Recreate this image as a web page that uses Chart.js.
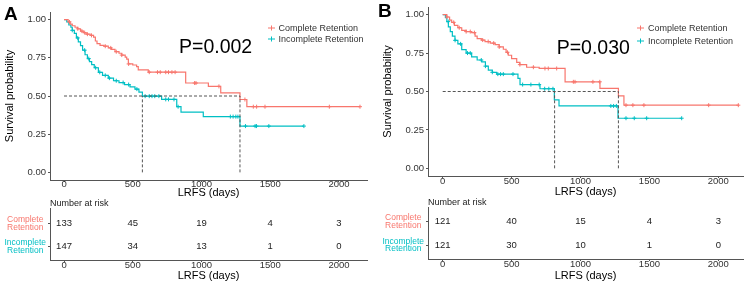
<!DOCTYPE html>
<html>
<head>
<meta charset="utf-8">
<script src="https://cdn.jsdelivr.net/npm/chart.js@4.4.1/dist/chart.umd.min.js"></script>
<style>
  html, body { margin: 0; padding: 0; background: #fff; }
  body { width: 749px; height: 286px; position: relative; overflow: hidden; font-family: "Liberation Sans", Arial, sans-serif; }
  canvas { position: absolute; }
  .txt { position: absolute; line-height: 1; white-space: nowrap; transform: translateY(-50%); }
  .letter { font-weight: bold; font-size: 19px; color: #000; }
  .pval { font-size: 19.5px; color: #000; }
  .legend { font-size: 9px; color: #333; }
  .risk-title { font-size: 9px; color: #222; }
  .mk { position: relative; display: inline-block; width: 7px; height: 1px; margin-right: 4px; vertical-align: middle; }
  .mk::after { content: ''; position: absolute; left: 3px; top: -2px; width: 1px; height: 5px; background: inherit; }
  .red { background: #F8766D; }
  .teal { background: #00BFC4; }
</style>
</head>
<body>

<canvas id="mainA" width="375" height="200" style="left:0;top:0"></canvas>
<canvas id="riskA" width="375" height="91" style="left:0;top:195px"></canvas>
<canvas id="mainB" width="374" height="200" style="left:375px;top:0"></canvas>
<canvas id="riskB" width="374" height="91" style="left:375px;top:195px"></canvas>

<div class="txt letter" style="left:4px;top:12.7px">A</div>
<div class="txt letter" style="left:378px;top:10px">B</div>

<div class="txt pval" style="left:179px;top:46.7px">P=0.002</div>
<div class="txt pval" style="left:556.7px;top:48.3px">P=0.030</div>

<div class="txt legend" style="left:267.5px;top:28.3px"><span class="mk red"></span>Complete Retention</div>
<div class="txt legend" style="left:267.5px;top:39.3px"><span class="mk teal"></span>Incomplete Retention</div>
<div class="txt legend" style="left:637px;top:28.3px"><span class="mk red"></span>Complete Retention</div>
<div class="txt legend" style="left:637px;top:40.7px"><span class="mk teal"></span>Incomplete Retention</div>

<div class="txt risk-title" style="left:50px;top:203.3px">Number at risk</div>
<div class="txt risk-title" style="left:428px;top:201.7px">Number at risk</div>

<script>
// --- 1. DATA ---
const xTicks = [0, 500, 1000, 1500, 2000];
const yTicks = [0, 0.25, 0.5, 0.75, 1];
const riskTimes = [0, 500, 1000, 1500, 2000];

// Panel A: drop times, survival after each drop, censor times
const timesA_complete = [30, 45, 60, 80, 100, 120, 140, 160, 190, 215, 228, 240, 262, 290, 322, 345, 371, 400, 420, 445, 456, 468, 500, 528, 540, 613, 885, 1050, 1140, 1280, 1330];
const survA_complete = [0.985, 0.97, 0.96, 0.95, 0.94, 0.925, 0.915, 0.905, 0.897, 0.886, 0.86, 0.843, 0.832, 0.826, 0.815, 0.805, 0.79, 0.78, 0.768, 0.755, 0.742, 0.71, 0.703, 0.692, 0.671, 0.656, 0.585, 0.563, 0.52, 0.477, 0.43];
const censorA_complete = [40, 100, 130, 150, 170, 200, 300, 340, 380, 420, 470, 620, 680, 700, 740, 760, 785, 808, 950, 960, 1127, 1316, 1377, 1401, 1462, 1930, 2153];

const timesA_incomplete = [20, 35, 50, 60, 75, 90, 104, 120, 135, 153, 170, 185, 201, 220, 250, 280, 322, 360, 400, 440, 480, 516, 545, 570, 710, 820, 851, 1013, 1280];
const survA_incomplete = [0.985, 0.965, 0.95, 0.93, 0.91, 0.88, 0.855, 0.83, 0.8, 0.77, 0.745, 0.725, 0.705, 0.685, 0.655, 0.635, 0.617, 0.6, 0.588, 0.575, 0.56, 0.545, 0.525, 0.499, 0.478, 0.43, 0.395, 0.365, 0.303];
const censorA_incomplete = [60, 100, 150, 180, 230, 260, 300, 330, 380, 430, 470, 530, 590, 620, 640, 660, 690, 740, 760, 800, 830, 1210, 1230, 1250, 1265, 1320, 1390, 1400, 1490, 1745];

const medianA = [570, 1280];
const riskA_complete = [133, 45, 19, 4, 3];
const riskA_incomplete = [147, 34, 13, 1, 0];

// Panel B
const timesB_complete = [30, 50, 65, 85, 110, 138, 170, 210, 235, 250, 280, 307, 345, 380, 410, 440, 460, 476, 500, 537, 560, 609, 700, 888, 1141, 1275, 1315];
const survB_complete = [0.985, 0.965, 0.95, 0.93, 0.915, 0.898, 0.89, 0.883, 0.86, 0.844, 0.835, 0.825, 0.815, 0.805, 0.79, 0.775, 0.755, 0.736, 0.714, 0.69, 0.675, 0.658, 0.65, 0.563, 0.52, 0.472, 0.411];
const censorB_complete = [30, 80, 120, 170, 200, 230, 290, 330, 370, 410, 470, 560, 658, 742, 766, 827, 948, 960, 1090, 1140, 1330, 1380, 1460, 1930, 2145];

const timesB_incomplete = [20, 30, 41, 55, 70, 89, 110, 138, 170, 210, 250, 283, 310, 331, 360, 392, 546, 561, 706, 810, 844, 1272];
const survB_incomplete = [0.98, 0.955, 0.92, 0.89, 0.86, 0.833, 0.81, 0.773, 0.75, 0.725, 0.705, 0.693, 0.665, 0.639, 0.625, 0.613, 0.585, 0.545, 0.518, 0.445, 0.406, 0.326];
const censorB_incomplete = [40, 90, 130, 180, 200, 280, 310, 360, 400, 420, 440, 510, 580, 640, 700, 740, 770, 800, 1220, 1240, 1260, 1330, 1390, 1480, 1734];

const medianB = [812, 1275];
const riskB_complete = [121, 40, 15, 4, 3];
const riskB_incomplete = [121, 30, 10, 1, 0];

// --- 2. STYLE ---
const RED = '#F8766D';
const TEAL = '#00BFC4';
const AXIS = '#555';
const TICK = '#333';
const FONT = '"Liberation Sans", Arial, sans-serif';

// --- 3. HELPERS ---
function kmPoints(times, surv, end) {
    const pts = [{ x: 0, y: 1 }];
    times.forEach((t, i) => pts.push({ x: t, y: surv[i] }));
    pts.push({ x: end, y: surv[surv.length - 1] });
    return pts;
}

function survAt(times, surv, t) {
    let s = 1;
    times.forEach((tt, i) => { if (tt <= t) s = surv[i]; });
    return s;
}

function curve(times, surv, cens, color) {
    return [
        { data: kmPoints(times, surv, Math.max(...cens)), showLine: true, stepped: true,
          borderColor: color, borderWidth: 1.2, pointRadius: 0, fill: false },
        { data: cens.map(t => ({ x: t, y: survAt(times, surv, t) })), showLine: false,
          pointStyle: 'cross', pointRadius: 2, borderColor: color, borderWidth: 1 }
    ];
}

function dashLine(pts) {
    return { data: pts, showLine: true, borderColor: '#555', borderWidth: 1,
             borderDash: [3, 2], pointRadius: 0, fill: false };
}

function xScale(p, tickPad, titlePad, axisH) {
    return {
        type: 'linear', min: p.xmin, max: p.xmax,
        afterBuildTicks: s => { s.ticks = xTicks.map(v => ({ value: v })); },
        afterFit: s => { s.height = axisH; },
        grid: { drawOnChartArea: false, drawTicks: true, tickLength: 2, color: AXIS },
        border: { color: AXIS, width: 1 },
        ticks: { color: TICK, font: { family: FONT, size: 9.5, lineHeight: 1 }, padding: tickPad,
                 maxRotation: 0, autoSkip: false, callback: v => String(v) },
        title: { display: true, text: 'LRFS (days)', color: '#000', font: { family: FONT, size: 11, lineHeight: 1.2 },
                 padding: { top: 0, bottom: titlePad } }
    };
}

// --- 4. SURVIVAL CHARTS ---
function drawMain(id, p) {
    const datasets = [
        dashLine([{ x: 0, y: 0.5 }, { x: Math.max(...p.median), y: 0.5 }]),
        ...p.median.map(m => dashLine([{ x: m, y: 0 }, { x: m, y: 0.5 }])),
        ...curve(p.tC, p.sC, p.cC, RED),
        ...curve(p.tI, p.sI, p.cI, TEAL)
    ];

    new Chart(document.getElementById(id), {
        type: 'scatter',
        data: { datasets },
        options: {
            responsive: false, animation: false,
            layout: { padding: { left: 0, right: p.padR, top: p.padT, bottom: 0 } },
            plugins: { legend: { display: false }, tooltip: { enabled: false } },
            scales: {
                x: xScale(p, p.xTickPad, p.xTitlePad, p.xAxisH),
                y: {
                    min: -0.05, max: 1.05,
                    afterBuildTicks: s => { s.ticks = yTicks.map(v => ({ value: v })); },
                    afterFit: s => { s.width = p.yAxisW; },
                    grid: { drawOnChartArea: false, drawTicks: true, tickLength: 2, color: AXIS },
                    border: { color: AXIS, width: 1 },
                    ticks: { color: TICK, font: { family: FONT, size: 9.5, lineHeight: 1 }, padding: 2,
                             callback: v => v.toFixed(2) },
                    title: { display: true, text: 'Survival probability', color: '#000',
                             font: { family: FONT, size: 11, lineHeight: 1.2 },
                             padding: { top: p.yTitlePad, bottom: 0 } }
                }
            }
        }
    });
}

// --- 5. RISK TABLES ---
const riskText = {
    id: 'riskText',
    afterDatasetsDraw(chart) {
        const ctx = chart.ctx;
        ctx.save();
        ctx.fillStyle = '#222';
        ctx.font = '9.5px ' + FONT;
        ctx.textAlign = 'center';
        ctx.textBaseline = 'middle';
        chart.data.datasets.forEach((ds, i) => {
            chart.getDatasetMeta(i).data.forEach((pt, j) => {
                ctx.fillText(String(ds.counts[j]), pt.x, pt.y);
            });
        });
        ctx.restore();
    }
};

function drawRisk(id, p) {
    new Chart(document.getElementById(id), {
        type: 'scatter',
        data: {
            datasets: [
                { counts: p.rC, data: riskTimes.map(t => ({ x: t, y: 1 })), pointRadius: 0 },
                { counts: p.rI, data: riskTimes.map(t => ({ x: t, y: 0 })), pointRadius: 0 }
            ]
        },
        options: {
            responsive: false, animation: false,
            layout: { padding: { left: 0, right: p.padR, top: p.rPadT, bottom: 0 } },
            plugins: { legend: { display: false }, tooltip: { enabled: false } },
            scales: {
                x: xScale(p, -1, 3.4, p.rAxisH),
                y: {
                    min: p.rYmin, max: p.rYmax,
                    afterBuildTicks: s => { s.ticks = [{ value: 0 }, { value: 1 }]; },
                    afterFit: s => { s.width = p.yAxisW; },
                    grid: { drawOnChartArea: false, drawTicks: true, tickLength: 2, color: AXIS },
                    border: { color: AXIS, width: 1 },
                    ticks: {
                        crossAlign: 'center', padding: 2,
                        font: { family: FONT, size: 8.5, lineHeight: 0.9 },
                        color: c => (c.tick && c.tick.value === 1) ? RED : TEAL,
                        callback: v => v === 1 ? ['Complete', 'Retention'] : ['Incomplete', 'Retention']
                    }
                }
            }
        },
        plugins: [riskText]
    });
}

// --- 6. BUILD ---
const panelA = {
    tC: timesA_complete, sC: survA_complete, cC: censorA_complete,
    tI: timesA_incomplete, sI: survA_incomplete, cI: censorA_incomplete,
    median: medianA, rC: riskA_complete, rI: riskA_incomplete,
    xmin: -102, xmax: 2204, padT: 12, padR: 8, yAxisW: 50, xAxisH: 20,
    xTickPad: -2, xTitlePad: 0, yTitlePad: 3.4,
    rPadT: 13, rAxisH: 26, rYmin: -0.587, rYmax: 1.674
};

const panelB = {
    tC: timesB_complete, sC: survB_complete, cC: censorB_complete,
    tI: timesB_incomplete, sI: survB_incomplete, cI: censorB_incomplete,
    median: medianB, rC: riskB_complete, rI: riskB_incomplete,
    xmin: -106.7, xmax: 2179, padT: 7, padR: 6, yAxisW: 53, xAxisH: 24,
    xTickPad: -1, xTitlePad: 1.7, yTitlePad: 6.4,
    rPadT: 12, rAxisH: 27, rYmin: -0.6, rYmax: 1.63
};

drawMain('mainA', panelA);
drawRisk('riskA', panelA);
drawMain('mainB', panelB);
drawRisk('riskB', panelB);
</script>
</body>
</html>
